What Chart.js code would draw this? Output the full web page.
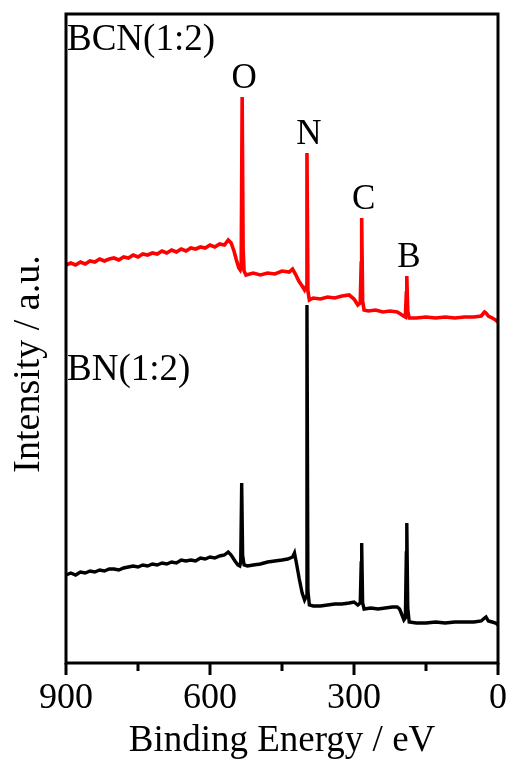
<!DOCTYPE html>
<html>
<head>
<meta charset="utf-8">
<script src="https://cdn.jsdelivr.net/npm/chart.js@4"></script>
<style>
  body { margin: 0; background: #fff; }
  canvas { display: block; }
</style>
</head>
<body>
<canvas id="xpsChart" width="510" height="765"></canvas>
<script>
// XPS survey spectra, intensity in arbitrary units
const bcnEnergy = [900, 890, 880, 870, 860, 850, 840, 830, 820, 810, 800, 790, 780, 770, 760, 750, 740, 730, 720, 710, 700, 690, 680, 670, 660, 650, 640, 630, 620, 610, 600, 590, 580, 570, 562, 556, 550, 545, 540, 537, 535, 533, 531, 529, 525, 510, 495, 480, 465, 450, 435, 428, 422, 415, 408, 403, 400, 398, 396, 393, 385, 370, 355, 340, 325, 310, 300, 292, 287, 285, 284, 282, 279, 270, 255, 240, 225, 210, 203, 197, 193, 191, 190, 188, 185, 170, 150, 130, 110, 90, 70, 50, 35, 28, 25, 20, 12, 5, 0];
const bcnIntensity = [398, 400, 398, 401, 399, 402, 401, 404, 402, 404, 405, 403, 406, 405, 408, 406, 409, 408, 410, 409, 412, 410, 413, 411, 414, 412, 415, 414, 416, 415, 418, 416, 419, 418, 423, 420, 412, 403, 395, 393, 396, 566, 414, 392, 388, 390, 388, 390, 389, 392, 391, 394, 389, 382, 377, 373, 376, 510, 372, 363, 365, 364, 366, 365, 367, 368, 364, 358, 360, 400, 445, 362, 353, 352, 353, 351, 352, 351, 349, 347, 346, 370, 387, 352, 345, 345, 346, 345, 346, 345, 346, 346, 347, 351, 350, 347, 345, 343, 341];

const bnEnergy = [900, 890, 880, 870, 860, 850, 840, 830, 820, 810, 800, 790, 780, 770, 760, 750, 740, 730, 720, 710, 700, 690, 680, 670, 660, 650, 640, 630, 620, 610, 600, 590, 580, 570, 562, 556, 548, 542, 538, 536, 534, 532, 529, 522, 510, 495, 480, 465, 450, 438, 428, 424, 420, 414, 408, 403, 400, 398, 396, 393, 385, 370, 355, 340, 325, 310, 300, 292, 287, 285, 284, 282, 279, 265, 250, 235, 220, 210, 205, 200, 196, 193, 191, 190, 188, 185, 170, 150, 130, 110, 90, 70, 50, 35, 28, 25, 20, 12, 5, 0];
const bnIntensity = [88, 90, 88, 91, 90, 92, 91, 93, 92, 94, 94, 93, 95, 96, 97, 96, 98, 97, 99, 98, 100, 99, 101, 100, 103, 102, 103, 102, 105, 104, 106, 105, 107, 108, 111, 108, 102, 98, 97, 101, 180, 108, 98, 97, 98, 99, 101, 102, 103, 104, 106, 110, 100, 84, 70, 63, 66, 358, 72, 58, 57, 57, 58, 59, 59, 60, 61, 58, 60, 100, 120, 60, 54, 55, 54, 55, 56, 56, 54, 48, 43, 45, 110, 140, 55, 41, 40, 40, 41, 40, 41, 41, 41, 42, 45, 46, 42, 41, 40, 38];

const peakNames = ["O", "N", "C", "B"];
const peakEnergies = [533, 398, 284, 190];

const sampleNames = ["BCN(1:2)", "BN(1:2)"];
const sampleLabelY = [613, 283];

const xTitle = "Binding Energy / eV";
const yTitle = "Intensity / a.u.";

function toPoints(xs, ys) {
  return xs.map((x, i) => ({ x: x, y: ys[i] }));
}

const serif = '"Liberation Serif", "Times New Roman", serif';

const annotate = {
  id: "annotate",
  afterDraw(chart) {
    const ctx = chart.ctx;
    const x = chart.scales.x;
    const y = chart.scales.y;
    const a = chart.chartArea;
    ctx.save();
    ctx.fillStyle = "#000";
    ctx.font = "35px " + serif;
    ctx.textAlign = "center";
    ctx.textBaseline = "alphabetic";

    peakNames.forEach((name, i) => {
      const idx = bcnEnergy.indexOf(peakEnergies[i]);
      const top = y.getPixelForValue(bcnIntensity[idx]);
      ctx.fillText(name, x.getPixelForValue(peakEnergies[i]) + 2, top - 9);
    });

    ctx.font = "37px " + serif;
    ctx.textAlign = "left";
    sampleNames.forEach((name, i) => {
      ctx.fillText(name, a.left + 1, y.getPixelForValue(sampleLabelY[i]));
    });

    // y title, rotated
    ctx.save();
    ctx.font = "38px " + serif;
    ctx.translate(29, 364);
    ctx.rotate(-Math.PI / 2);
    ctx.textAlign = "center";
    ctx.textBaseline = "middle";
    ctx.fillText(yTitle, 0, 0);
    ctx.restore();

    // frame
    ctx.strokeStyle = "#000";
    ctx.lineWidth = 3;
    ctx.strokeRect(a.left, a.top, a.right - a.left, a.bottom - a.top);

    // major / minor ticks
    x.ticks.forEach(t => {
      const px = x.getPixelForValue(t.value);
      const len = t.value % 300 === 0 ? 12 : 8;
      ctx.beginPath();
      ctx.moveTo(px, a.bottom);
      ctx.lineTo(px, a.bottom + len);
      ctx.stroke();
    });
    ctx.restore();
  }
};

new Chart(document.getElementById("xpsChart"), {
  type: "line",
  data: {
    datasets: [
      {
        label: sampleNames[0],
        data: toPoints(bcnEnergy, bcnIntensity),
        borderColor: "#ff0000",
        borderWidth: 3.6,
        pointRadius: 0,
        tension: 0
      },
      {
        label: sampleNames[1],
        data: toPoints(bnEnergy, bnIntensity),
        borderColor: "#000000",
        borderWidth: 3.4,
        pointRadius: 0,
        tension: 0
      }
    ]
  },
  options: {
    responsive: false,
    animation: false,
    devicePixelRatio: 1,
    layout: { padding: { left: 0, right: 12, top: 14, bottom: 0 } },
    plugins: {
      legend: { display: false },
      tooltip: { enabled: false }
    },
    scales: {
      x: {
        type: "linear",
        reverse: true,
        min: 0,
        max: 900,
        border: { display: false },
        grid: { drawOnChartArea: false, tickLength: 12, tickColor: "transparent" },
        ticks: {
          stepSize: 150,
          color: "#000",
          padding: 2,
          maxRotation: 0,
          autoSkip: false,
          font: { family: serif, size: 36 },
          callback: v => (v % 300 === 0 ? String(v) : "")
        },
        title: {
          display: true,
          text: xTitle,
          color: "#000",
          font: { family: serif, size: 37 },
          padding: { top: 0, bottom: 2 }
        },
        afterFit: s => { s.height = 102; }
      },
      y: {
        min: 0,
        max: 649,
        border: { display: false },
        grid: { display: false },
        ticks: { display: false },
        afterFit: s => { s.width = 66; }
      }
    }
  },
  plugins: [annotate]
});
</script>
</body>
</html>
